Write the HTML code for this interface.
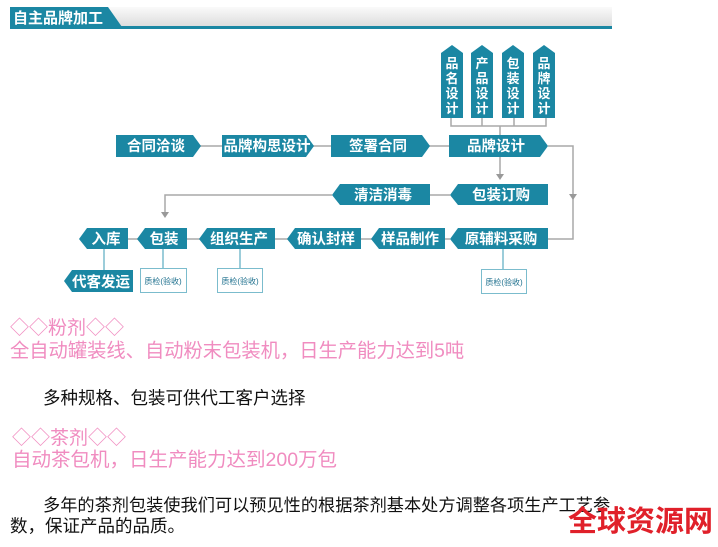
<!DOCTYPE html>
<html><head><meta charset="utf-8"><style>
body{margin:0;width:718px;height:547px;background:#fff;position:relative;overflow:hidden;font-family:"Liberation Sans","Noto Sans CJK SC",sans-serif}
.t{position:absolute;white-space:nowrap;font-size:17px;line-height:20px}
.p{color:#f08cc0}
.k{color:#111}
</style></head><body>
<svg width="718" height="547" style="position:absolute;left:0;top:0" xmlns="http://www.w3.org/2000/svg">
<defs><linearGradient id="g" x1="0" x2="0" y1="0" y2="1"><stop offset="0" stop-color="#fafafa"/><stop offset="1" stop-color="#dcdcdc"/></linearGradient></defs>
<rect x="10" y="7" width="602" height="20" fill="url(#g)"/>
<polygon points="10,7 108,7 122,27 10,27" fill="#1b87a3"/>
<rect x="10" y="26" width="602" height="3" fill="#1b87a3"/>
<text x="13" y="23" font-size="15" font-weight="bold" fill="#fff" font-family="Liberation Sans,Noto Sans CJK SC,sans-serif">自主品牌加工</text>
<g stroke="#a8a8a8" stroke-width="1.5" fill="none">
<polyline points="451,118 451,126 546,126 546,118"/>
<line x1="482" y1="118" x2="482" y2="126"/><line x1="514" y1="118" x2="514" y2="126"/>
<line x1="500" y1="126" x2="500" y2="135"/>
<line x1="200" y1="146" x2="449" y2="146"/>
<polyline points="548,146 573,146 573,239 548,239"/>
<line x1="500" y1="157" x2="500" y2="174"/>
<line x1="430" y1="195" x2="450" y2="195"/>
<polyline points="332,195 165,195 165,213"/>
<line x1="128" y1="239" x2="450" y2="239"/>
</g>
<g fill="#999"><polygon points="496,174 504,174 500,180"/><polygon points="569,194 577,194 573,200"/><polygon points="161,212 169,212 165,218"/></g>
<g stroke="#7bbccd" stroke-width="1.5">
<line x1="104" y1="249" x2="104" y2="271"/><line x1="163" y1="249" x2="163" y2="269"/><line x1="240" y1="249" x2="240" y2="269"/><line x1="503" y1="249" x2="503" y2="270"/>
</g>
<g fill="#1b87a3">
<polygon points="441,53 452,45 463,53 463,118 441,118"/>
<polygon points="471,53 482,45 493,53 493,118 471,118"/>
<polygon points="502,53 513,45 524,53 524,118 502,118"/>
<polygon points="533,53 544,45 555,53 555,118 533,118"/>
<polygon points="116,135 193,135 201,146 193,157 116,157"/>
<polygon points="222,135 306,135 314,146 306,157 222,157"/>
<polygon points="331,135 422,135 430,146 422,157 331,157"/>
<polygon points="449,135 540,135 548,146 540,157 449,157"/>
<polygon points="340,184 430,184 430,205 340,205 332,195"/>
<polygon points="458,184 548,184 548,205 458,205 450,195"/>
<polygon points="87,228 128,228 128,249 87,249 79,239"/>
<polygon points="145,228 187,228 187,249 145,249 137,239"/>
<polygon points="207,228 275,228 275,249 207,249 199,239"/>
<polygon points="295,228 361,228 361,249 295,249 287,239"/>
<polygon points="379,228 445,228 445,249 379,249 371,239"/>
<polygon points="458,228 548,228 548,249 458,249 450,239"/>
<polygon points="72,270 133,270 133,292 72,292 64,281"/>
</g>
<g fill="#fff" stroke="#7bbccd" stroke-width="1"><rect x="140.5" y="268.5" width="46" height="24"/><rect x="217.5" y="268.5" width="45" height="24"/><rect x="481.5" y="269.5" width="45" height="24"/></g>
<g fill="#1b6e8c" font-size="8" text-anchor="middle" font-family="Liberation Sans,Noto Sans CJK SC,sans-serif"><text x="163" y="284">质检(验收)</text><text x="240" y="284">质检(验收)</text><text x="504" y="285">质检(验收)</text></g>
<g fill="#fff" font-size="14.5" font-weight="bold" text-anchor="middle" font-family="Liberation Sans,Noto Sans CJK SC,sans-serif">
<text x="156" y="151">合同洽谈</text><text x="267" y="151">品牌构思设计</text><text x="378" y="151">签署合同</text><text x="496" y="151">品牌设计</text>
<text x="383" y="200">清洁消毒</text><text x="501" y="200">包装订购</text>
<text x="106" y="244">入库</text><text x="164" y="244">包装</text><text x="239" y="244">组织生产</text><text x="326" y="244">确认封样</text><text x="410" y="244">样品制作</text><text x="501" y="244">原辅料采购</text>
<text x="101" y="287">代客发运</text>
</g>
<g fill="#fff" font-size="13" font-weight="bold" text-anchor="middle" font-family="Liberation Sans,Noto Sans CJK SC,sans-serif">
<text x="452" y="68">品</text><text x="452" y="83">名</text><text x="452" y="98">设</text><text x="452" y="113">计</text>
<text x="482" y="68">产</text><text x="482" y="83">品</text><text x="482" y="98">设</text><text x="482" y="113">计</text>
<text x="513" y="68">包</text><text x="513" y="83">装</text><text x="513" y="98">设</text><text x="513" y="113">计</text>
<text x="544" y="68">品</text><text x="544" y="83">牌</text><text x="544" y="98">设</text><text x="544" y="113">计</text>
</g>
</svg>
<div class="t p" style="left:10px;top:319px;font-size:19px">◇◇粉剂◇◇</div>
<div class="t p" style="left:10px;top:342px;font-size:19.3px">全自动罐装线、自动粉末包装机，日生产能力达到5吨</div>
<div class="t k" style="left:43px;top:388px;font-size:17.5px">多种规格、包装可供代工客户选择</div>
<div class="t p" style="left:12px;top:429px;font-size:19px">◇◇茶剂◇◇</div>
<div class="t p" style="left:12px;top:450px;font-size:19.5px">自动茶包机，日生产能力达到200万包</div>
<div class="t k" style="left:43px;top:495px;font-size:17.2px">多年的茶剂包装使我们可以预见性的根据茶剂基本处方调整各项生产工艺参</div>
<div class="t k" style="left:10px;top:516px;font-size:17.5px">数，保证产品的品质。</div>
<div class="t" style="left:568px;top:505px;font-size:29px;line-height:34px;font-weight:bold;color:#e0202a">全球资源网</div>
</body></html>
